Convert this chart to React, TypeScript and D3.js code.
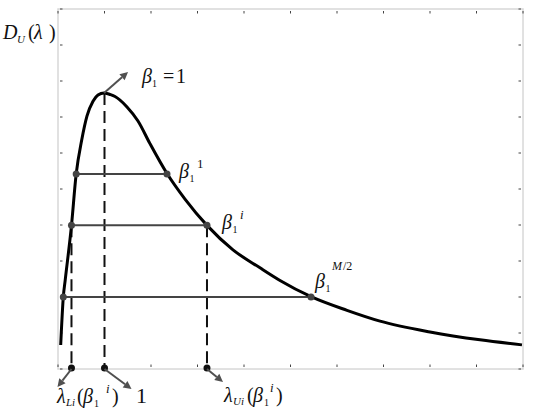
import React from "react";
import * as d3 from "d3";

// ---- data ----
const curveX = [0.058, 0.114, 0.155, 0.29, 0.391, 0.51, 0.624, 0.753, 0.86, 0.99, 1.118, 1.226, 1.484, 1.72, 1.978, 2.344, 2.731, 3.204, 3.763, 4.344, 4.774, 5.441, 6.215, 6.925, 8.0, 9.075, 9.978];
const curveY = [0.667, 2.0, 2.47, 3.99, 5.42, 6.36, 7.03, 7.44, 7.61, 7.67, 7.625, 7.57, 7.28, 6.89, 6.26, 5.43, 4.72, 3.99, 3.31, 2.81, 2.46, 2.01, 1.63, 1.33, 1.03, 0.81, 0.67];

const levelY = [5.42, 3.99, 2.0];
const levelLeftX = [0.391, 0.29, 0.114];
const levelRightX = [2.344, 3.204, 5.441];
const levelSup = ["1", "i", "M/2"];

const dashX = [0.29, 1.0, 3.204];
const dashTopY = [3.99, 7.67, 3.99];

const peakX = 0.99;
const peakY = 7.67;

const xTicks = d3.range(0, 11);
const yTicks = d3.range(0, 11);

const W = 550;
const H = 414;
const L = 58, R = 523, T = 9, B = 369;

const FONT = "Liberation Serif";
const FS = 20;

function Arrow({ x1, y1, x2, y2, color = "#505050" }: any) {
  const ang = Math.atan2(y2 - y1, x2 - x1);
  const hl = 8, hw = 4;
  const bx = x2 - hl * Math.cos(ang);
  const by = y2 - hl * Math.sin(ang);
  const px = -Math.sin(ang) * hw, py = Math.cos(ang) * hw;
  return (
    <g>
      <line x1={x1} y1={y1} x2={bx} y2={by} stroke={color} strokeWidth={2} />
      <polygon points={`${x2},${y2} ${bx + px},${by + py} ${bx - px},${by - py}`} fill={color} />
    </g>
  );
}

export default function App() {
  const x = d3.scaleLinear().domain([0, 10]).range([L, R]);
  const y = d3.scaleLinear().domain([0, 10]).range([B, T]);

  const pts: [number, number][] = curveX.map((v, i) => [v, curveY[i]]);
  const line = d3
    .line<[number, number]>()
    .x((d) => x(d[0]))
    .y((d) => y(d[1]))
    .curve(d3.curveMonotoneX);

  const px = x(peakX), py = y(peakY);

  return (
    <svg width={W} height={H} style={{ position: "absolute", left: 0, top: 0, background: "#fff" }}>
      {/* box */}
      <rect x={L} y={T} width={R - L} height={B - T} fill="none" stroke="#d8d8d8" strokeWidth={1.5} />
      {/* ticks */}
      {xTicks.map((t) => (
        <g key={"xt" + t}>
          <line x1={x(t)} x2={x(t)} y1={B - 2} y2={B - 4.5} stroke="#444" strokeWidth={1} />
          <line x1={x(t)} x2={x(t)} y1={T + 2} y2={T + 4.5} stroke="#444" strokeWidth={1} />
        </g>
      ))}
      {yTicks.map((t) => (
        <g key={"yt" + t}>
          <line y1={y(t)} y2={y(t)} x1={L + 2} x2={L + 4.5} stroke="#444" strokeWidth={1} />
          <line y1={y(t)} y2={y(t)} x1={R - 2} x2={R - 4.5} stroke="#444" strokeWidth={1} />
        </g>
      ))}

      {/* dashed verticals */}
      {dashX.map((dx, i) => (
        <line key={"d" + i} x1={x(dx)} x2={x(dx)} y1={y(dashTopY[i])} y2={y(0)} stroke="#111" strokeWidth={2} strokeDasharray="12,6" />
      ))}

      {/* horizontal levels */}
      {levelY.map((ly, i) => (
        <line key={"l" + i} x1={x(levelLeftX[i])} x2={x(levelRightX[i])} y1={y(ly)} y2={y(ly)} stroke="#444" strokeWidth={2} />
      ))}

      {/* curve */}
      <path d={line(pts) || ""} fill="none" stroke="#000" strokeWidth={3} />

      {levelY.map((ly, i) => (
        <g key={"ld" + i}>
          <circle cx={x(levelLeftX[i])} cy={y(ly)} r={3.5} fill="#444" />
          <circle cx={x(levelRightX[i])} cy={y(ly)} r={3.5} fill="#444" />
        </g>
      ))}

      {/* bottom dots */}
      {dashX.map((dx, i) => (
        <circle key={"bd" + i} cx={x(dx)} cy={y(0) - 1} r={3.5} fill="#111" />
      ))}

      {/* arrows */}
      <Arrow x1={px} y1={py} x2={px + 24} y2={py - 21} />
      <Arrow x1={x(dashX[0])} y1={y(0)} x2={x(dashX[0]) - 14} y2={y(0) + 18} />
      <Arrow x1={x(dashX[1])} y1={y(0)} x2={x(dashX[1]) + 27} y2={y(0) + 20} />
      <Arrow x1={x(dashX[2])} y1={y(0)} x2={x(dashX[2]) + 16} y2={y(0) + 13} />

      {/* y label D_U(λ) */}
      <text fontFamily={FONT} fill="#111">
        <tspan x={3} y={39} fontSize={FS} fontStyle="italic">D</tspan>
        <tspan x={17} y={43} fontSize={11} fontStyle="italic">U</tspan>
        <tspan x={28} y={39} fontSize={FS}>(</tspan>
        <tspan x={34} y={39} fontSize={FS} fontStyle="italic">λ</tspan>
        <tspan x={49} y={39} fontSize={FS}>)</tspan>
      </text>

      {/* β1 = 1 */}
      <text fontFamily={FONT} fill="#111">
        <tspan x={px + 38} y={py - 10} fontSize={FS} fontStyle="italic">β</tspan>
        <tspan x={px + 48} y={py - 6} fontSize={10}>1</tspan>
        <tspan x={px + 59} y={py - 10} fontSize={FS}>=</tspan>
        <tspan x={px + 72} y={py - 10} fontSize={FS}>1</tspan>
      </text>

      {/* level labels */}
      {levelY.map((ly, i) => {
        const bx = x(levelRightX[i]) + (i === 2 ? 4 : i === 1 ? 15 : 12);
        const by = y(ly) + (i === 2 ? -9 : 4);
        const supItalic = levelSup[i] !== "1";
        return (
          <text key={"lab" + i} fontFamily={FONT} fill="#111">
            <tspan x={bx} y={by} fontSize={FS} fontStyle="italic">β</tspan>
            <tspan x={bx + 10.5} y={by + 4} fontSize={10}>1</tspan>
            {i === 2 ? (
              <>
                <tspan x={bx + 17} y={by - 18} fontSize={12} fontStyle="italic">M</tspan>
                <tspan x={bx + 28} y={by - 18} fontSize={12}>/2</tspan>
              </>
            ) : (
              <tspan x={bx + 18} y={by - 10} fontSize={13} fontStyle={supItalic ? "italic" : "normal"}>{levelSup[i]}</tspan>
            )}
          </text>
        );
      })}

      {/* bottom labels */}
      <text fontFamily={FONT} fill="#111">
        <tspan x={57} y={403} fontSize={FS} fontStyle="italic">λ</tspan>
        <tspan x={66} y={406} fontSize={11} fontStyle="italic">Li</tspan>
        <tspan x={77} y={403} fontSize={FS}>(</tspan>
        <tspan x={83} y={403} fontSize={FS} fontStyle="italic">β</tspan>
        <tspan x={94} y={407} fontSize={10}>1</tspan>
        <tspan x={106} y={393} fontSize={13} fontStyle="italic">i</tspan>
        <tspan x={112} y={403} fontSize={FS}>)</tspan>
      </text>
      <text x={136} y={403} fontFamily={FONT} fontSize={22} fill="#111">1</text>
      <text fontFamily={FONT} fill="#111">
        <tspan x={224} y={402} fontSize={FS} fontStyle="italic">λ</tspan>
        <tspan x={233} y={405} fontSize={11} fontStyle="italic">Ui</tspan>
        <tspan x={247} y={402} fontSize={FS}>(</tspan>
        <tspan x={253} y={402} fontSize={FS} fontStyle="italic">β</tspan>
        <tspan x={264} y={406} fontSize={10}>1</tspan>
        <tspan x={270} y={392} fontSize={13} fontStyle="italic">i</tspan>
        <tspan x={276} y={402} fontSize={FS}>)</tspan>
      </text>
    </svg>
  );
}
